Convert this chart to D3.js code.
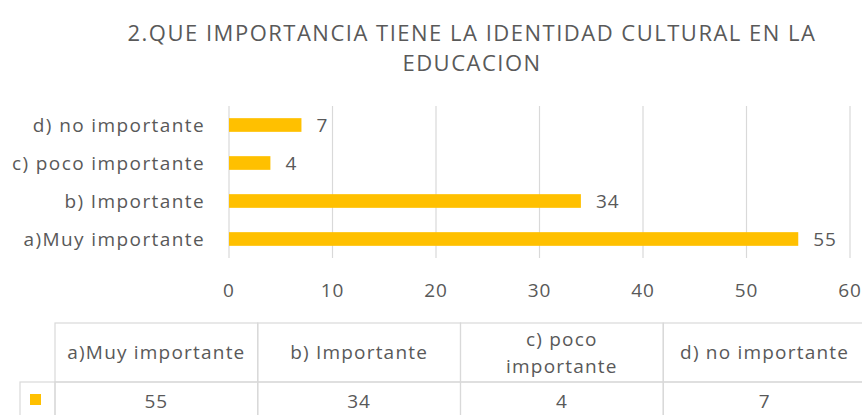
<!DOCTYPE html>
<html>
<head>
<meta charset="utf-8">
<script src="https://cdn.jsdelivr.net/npm/d3@7"></script>
<style>
  body { margin: 0; background: #fff; }
  text { font-family: "Open Sans", sans-serif; fill: #595959; }
</style>
</head>
<body>
<div id="canvas"></div>
<script>
"use strict"

let svgWidth = 862
let svgHeight = 415

// chart data
let categories = ["a)Muy importante", "b) Importante", "c) poco importante", "d) no importante"]
let tableHeaders = [["a)Muy importante"], ["b) Importante"], ["c) poco", "importante"], ["d) no importante"]]
let values = [55, 34, 4, 7]
let xTicks = [0, 10, 20, 30, 40, 50, 60]
let titleLines = ["2.QUE IMPORTANCIA TIENE LA IDENTIDAD CULTURAL EN LA", "EDUCACION"]

let barColor = "#FFC000"
let gridColor = "#d9d9d9"

let svg = d3.select("#canvas")
    .append("svg")
    .attr("width", svgWidth)
    .attr("height", svgHeight)

let rows = categories.map((c, i) => ({ name: c, value: values[i] }))

let xScale = d3.scaleLinear()
    .domain([0, 60])
    .range([229, 850])

// a) at the bottom, d) at the top
let yScale = d3.scaleBand()
    .domain(categories.slice().reverse())
    .range([106, 258])
    .paddingInner(0.64)
    .paddingOuter(0.32)

/* title */
svg.append("text")
    .attr("x", 472)
    .attr("y", 41)
    .attr("text-anchor", "middle")
    .attr("font-size", 22)
    .attr("letter-spacing", 1.5)
    .selectAll("tspan")
    .data(titleLines)
    .enter()
    .append("tspan")
    .attr("x", 472)
    .attr("dy", (d, i) => i === 0 ? 0 : 30)
    .text(d => d)

/* gridlines */
svg.selectAll("line.grid")
    .data(xTicks)
    .enter()
    .append("line")
    .attr("class", "grid")
    .attr("x1", d => xScale(d))
    .attr("x2", d => xScale(d))
    .attr("y1", 106)
    .attr("y2", 258)
    .attr("stroke", gridColor)
    .attr("stroke-width", 1.2)

/* x tick labels */
svg.selectAll("text.xtick")
    .data(xTicks)
    .enter()
    .append("text")
    .attr("class", "xtick")
    .attr("x", d => xScale(d))
    .attr("y", 297)
    .attr("text-anchor", "middle")
    .attr("font-size", 19)
    .attr("letter-spacing", 1)
    .text(d => d)

/* category labels */
svg.selectAll("text.ylabel")
    .data(categories)
    .enter()
    .append("text")
    .attr("class", "ylabel")
    .attr("x", 205)
    .attr("y", d => yScale(d) + yScale.bandwidth() / 2)
    .attr("dy", "0.35em")
    .attr("text-anchor", "end")
    .attr("font-size", 19)
    .attr("letter-spacing", 1.4)
    .text(d => d)

/* bars */
svg.selectAll("rect.bar")
    .data(rows)
    .enter()
    .append("rect")
    .attr("class", "bar")
    .attr("x", xScale(0))
    .attr("y", d => yScale(d.name))
    .attr("width", d => xScale(d.value) - xScale(0))
    .attr("height", yScale.bandwidth())
    .attr("fill", barColor)

/* value labels */
svg.selectAll("text.value")
    .data(rows)
    .enter()
    .append("text")
    .attr("class", "value")
    .attr("x", d => xScale(d.value) + 15)
    .attr("y", d => yScale(d.name) + yScale.bandwidth() / 2)
    .attr("dy", "0.35em")
    .attr("font-size", 19)
    .attr("letter-spacing", 1)
    .text(d => d.value)

/* data table */
let colScale = d3.scaleBand()
    .domain(categories)
    .range([55, 866])

let headerTop = 323
let headerBottom = 382
let rowBottom = 430

let table = svg.append("g")

// header row cells
table.selectAll("rect.head")
    .data(categories)
    .enter()
    .append("rect")
    .attr("class", "head")
    .attr("x", d => colScale(d))
    .attr("y", headerTop)
    .attr("width", colScale.bandwidth())
    .attr("height", headerBottom - headerTop)
    .attr("fill", "none")
    .attr("stroke", gridColor)
    .attr("stroke-width", 1.2)

// data row cells
table.selectAll("rect.cell")
    .data(categories)
    .enter()
    .append("rect")
    .attr("class", "cell")
    .attr("x", d => colScale(d))
    .attr("y", headerBottom)
    .attr("width", colScale.bandwidth())
    .attr("height", rowBottom - headerBottom)
    .attr("fill", "none")
    .attr("stroke", gridColor)
    .attr("stroke-width", 1.2)

// legend key cell
table.append("rect")
    .attr("x", 20)
    .attr("y", headerBottom)
    .attr("width", 35)
    .attr("height", rowBottom - headerBottom)
    .attr("fill", "none")
    .attr("stroke", gridColor)
    .attr("stroke-width", 1.2)

table.append("rect")
    .attr("x", 30)
    .attr("y", 394)
    .attr("width", 11)
    .attr("height", 11)
    .attr("fill", barColor)

// header texts
table.selectAll("text.headText")
    .data(tableHeaders)
    .enter()
    .append("text")
    .attr("class", "headText")
    .attr("text-anchor", "middle")
    .attr("font-size", 19)
    .attr("letter-spacing", 1.2)
    .each(function (lines, i) {
        let cx = colScale(categories[i]) + colScale.bandwidth() / 2
        let startY = (headerTop + headerBottom) / 2 - (lines.length - 1) * 13.5
        d3.select(this).selectAll("tspan")
            .data(lines)
            .enter()
            .append("tspan")
            .attr("x", cx)
            .attr("y", (d, j) => startY + j * 27)
            .attr("dy", "0.35em")
            .text(d => d)
    })

// value texts
table.selectAll("text.cellText")
    .data(rows)
    .enter()
    .append("text")
    .attr("class", "cellText")
    .attr("x", d => colScale(d.name) + colScale.bandwidth() / 2)
    .attr("y", 401)
    .attr("dy", "0.35em")
    .attr("text-anchor", "middle")
    .attr("font-size", 19)
    .attr("letter-spacing", 1)
    .text(d => d.value)
</script>
</body>
</html>
